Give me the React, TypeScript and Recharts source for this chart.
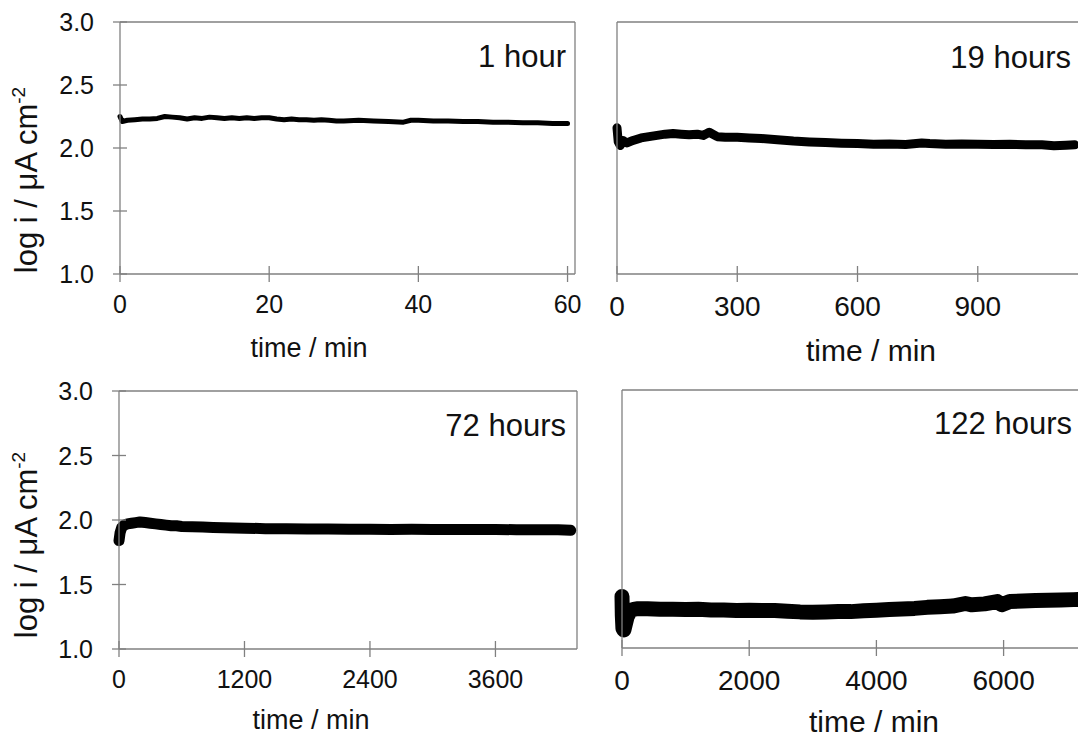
import React from "react";
import { LineChart, Line, XAxis, YAxis, ReferenceLine } from "recharts";

const AXIS = "#808080";
const FONT = "'Liberation Sans', Arial, Helvetica, sans-serif";

const yTicks = [1.0, 1.5, 2.0, 2.5, 3.0];

// 1 hour
const time1h = [0, 0.3, 1, 2, 3, 4, 5, 6, 7, 8, 9, 10, 11, 12, 13, 14, 15, 16, 17, 18, 19, 20, 21, 22, 23, 24, 25, 26, 27, 28, 29, 30, 32, 34, 36, 38, 39, 40, 42, 44, 46, 48, 50, 52, 54, 56, 58, 60];
const logI1h = [2.25, 2.21, 2.22, 2.225, 2.23, 2.23, 2.235, 2.25, 2.245, 2.24, 2.23, 2.24, 2.235, 2.245, 2.24, 2.235, 2.24, 2.235, 2.24, 2.235, 2.24, 2.24, 2.23, 2.225, 2.23, 2.225, 2.225, 2.22, 2.225, 2.22, 2.215, 2.215, 2.22, 2.215, 2.21, 2.205, 2.22, 2.22, 2.215, 2.215, 2.21, 2.21, 2.205, 2.205, 2.2, 2.2, 2.195, 2.195];

// 19 hours
const time19h = [0, 3, 8, 15, 25, 40, 60, 80, 100, 120, 140, 160, 180, 200, 215, 230, 250, 270, 300, 330, 360, 400, 440, 480, 520, 560, 600, 640, 680, 720, 760, 780, 820, 860, 900, 940, 980, 1020, 1060, 1090, 1120, 1142];
const logI19h = [2.16, 2.05, 2.02, 2.06, 2.04, 2.06, 2.08, 2.09, 2.1, 2.11, 2.115, 2.11, 2.105, 2.11, 2.1, 2.125, 2.09, 2.085, 2.085, 2.08, 2.075, 2.065, 2.055, 2.048, 2.043, 2.038, 2.035, 2.03, 2.032, 2.028, 2.04, 2.035, 2.03, 2.032, 2.03, 2.028, 2.03, 2.026, 2.025, 2.018, 2.022, 2.025];

// 72 hours
const time72h = [0, 10, 25, 50, 80, 120, 160, 200, 250, 300, 350, 400, 450, 500, 550, 600, 700, 800, 900, 1000, 1200, 1400, 1600, 1800, 2000, 2200, 2400, 2600, 2800, 3000, 3200, 3400, 3600, 3800, 4000, 4200, 4320];
const logI72h = [1.84, 1.9, 1.94, 1.96, 1.97, 1.975, 1.98, 1.985, 1.98, 1.975, 1.97, 1.965, 1.96, 1.955, 1.955, 1.95, 1.948, 1.945, 1.942, 1.94, 1.937, 1.933, 1.932, 1.93, 1.93, 1.928, 1.928, 1.927, 1.928, 1.926, 1.927, 1.926, 1.926, 1.925, 1.925, 1.925, 1.92];

// 122 hours
const time122h = [0, 5, 15, 30, 50, 80, 120, 180, 250, 400, 600, 800, 1000, 1200, 1400, 1600, 1800, 2000, 2200, 2400, 2600, 2800, 3000, 3200, 3400, 3600, 3800, 4000, 4200, 4400, 4600, 4800, 5000, 5200, 5400, 5500, 5700, 5900, 5970, 6100, 6300, 6500, 6700, 6900, 7100, 7320];
const logI122h = [1.4, 1.25, 1.15, 1.14, 1.18, 1.24, 1.28, 1.3, 1.305, 1.305, 1.3, 1.3, 1.298, 1.3, 1.295, 1.295, 1.29, 1.292, 1.29, 1.29, 1.285, 1.28, 1.278, 1.28, 1.282, 1.282, 1.288, 1.292, 1.298, 1.302, 1.307, 1.315, 1.32, 1.325, 1.345, 1.335, 1.342, 1.36, 1.335, 1.36, 1.365, 1.368, 1.37, 1.372, 1.375, 1.378];

const panels = [
  {
    title: "1 hour", time: time1h, logI: logI1h, xMax: 61, xTicks: [0, 20, 40, 60], showY: true,
    left: 0, top: 0, width: 600, height: 370, yWidth: 120, xHeight: 96,
    margin: { top: 22, right: 25, bottom: 0, left: 0 }, lineWidth: 5,
    tickFont: 25, xLabelFont: 27,
    titleX: 566, titleY: 67, xLabelX: 309, xLabelY: 357, yLabelY: 180,
  },
  {
    title: "19 hours", time: time19h, logI: logI19h, xMax: 1170, xTicks: [0, 300, 600, 900], showY: false,
    left: 500, top: 0, width: 600, height: 370, yWidth: 117, xHeight: 96,
    margin: { top: 22, right: 14, bottom: 0, left: 0 }, lineWidth: 9,
    tickFont: 28, xLabelFont: 30,
    titleX: 571, titleY: 68, xLabelX: 371, xLabelY: 361, yLabelY: 0,
  },
  {
    title: "72 hours", time: time72h, logI: logI72h, xMax: 4380, xTicks: [0, 1200, 2400, 3600], showY: true,
    left: 0, top: 370, width: 600, height: 368, yWidth: 119, xHeight: 89,
    margin: { top: 21, right: 23, bottom: 0, left: 0 }, lineWidth: 11,
    tickFont: 25, xLabelFont: 27,
    titleX: 566, titleY: 66, xLabelX: 311, xLabelY: 359, yLabelY: 175,
  },
  {
    title: "122 hours", time: time122h, logI: logI122h, xMax: 7500, xTicks: [0, 2000, 4000, 6000], showY: false,
    left: 500, top: 370, width: 620, height: 368, yWidth: 122, xHeight: 90,
    margin: { top: 20, right: 21, bottom: 0, left: 0 }, lineWidth: 15,
    tickFont: 28, xLabelFont: 30,
    titleX: 572, titleY: 64, xLabelX: 374, xLabelY: 362, yLabelY: 0,
  },
];

const makeXTick = (fontSize: number) => (props: any) => {
  const { x, y, payload } = props;
  return (
    <g>
      <line x1={x} x2={x} y1={y - 8} y2={y + 8} stroke={AXIS} strokeWidth={1.3} />
      <text x={x} y={y + 14 + fontSize} textAnchor="middle" fontSize={fontSize} fill="#111">
        {payload.value}
      </text>
    </g>
  );
};

const YTick = (props: any) => {
  const { x, y, payload } = props;
  return (
    <g>
      <line x1={x - 7} x2={x + 7} y1={y} y2={y} stroke={AXIS} strokeWidth={1.3} />
      <text x={x - 26} y={y} dy="0.36em" textAnchor="end" fontSize={25} fill="#111">
        {Number(payload.value).toFixed(1)}
      </text>
    </g>
  );
};

function Panel({ p }: { p: any }) {
  const data = p.time.map((t: number, i: number) => ({ t, v: p.logI[i] }));

  return (
    <div style={{ position: "absolute", left: p.left, top: p.top }}>
      <LineChart width={p.width} height={p.height} data={data} margin={p.margin}>
        <XAxis
          dataKey="t"
          type="number"
          domain={[0, p.xMax]}
          ticks={p.xTicks}
          interval={0}
          height={p.xHeight}
          axisLine={{ stroke: AXIS, strokeWidth: 1.3 }}
          tickLine={false}
          tickSize={0}
          tickMargin={0}
          tick={makeXTick(p.tickFont)}
          label={() => (
            <text x={p.xLabelX} y={p.xLabelY} textAnchor="middle" fontSize={p.xLabelFont} fill="#111">
              time / min
            </text>
          )}
        />
        <YAxis
          type="number"
          domain={[1, 3]}
          ticks={yTicks}
          interval={0}
          width={p.yWidth}
          axisLine={{ stroke: AXIS, strokeWidth: 1.3 }}
          tickLine={false}
          tickSize={0}
          tickMargin={0}
          tick={p.showY ? YTick : false}
          label={
            p.showY
              ? () => (
                  <text
                    x={37}
                    y={p.yLabelY}
                    transform={`rotate(-90 37 ${p.yLabelY})`}
                    textAnchor="middle"
                    fontSize={31}
                    fill="#111"
                  >
                    log i / μA cm
                    <tspan fontSize={19} dy={-12}>-2</tspan>
                  </text>
                )
              : undefined
          }
        />
        <ReferenceLine
          y={3}
          stroke={AXIS}
          strokeWidth={1.3}
          label={() => (
            <text x={p.titleX} y={p.titleY} textAnchor="end" fontSize={31} fill="#111">
              {p.title}
            </text>
          )}
        />
        <ReferenceLine x={p.xMax} stroke={AXIS} strokeWidth={1.3} />
        <Line
          type="linear"
          dataKey="v"
          stroke="#000"
          strokeWidth={p.lineWidth}
          strokeLinejoin="round"
          strokeLinecap="round"
          dot={false}
          isAnimationActive={false}
        />
      </LineChart>
    </div>
  );
}

export default function App() {
  return (
    <div
      style={{
        position: "absolute",
        left: 0,
        top: 0,
        width: 1078,
        height: 738,
        overflow: "hidden",
        background: "#fff",
        fontFamily: FONT,
      }}
    >
      {panels.map((p) => (
        <Panel key={p.title} p={p} />
      ))}
    </div>
  );
}
